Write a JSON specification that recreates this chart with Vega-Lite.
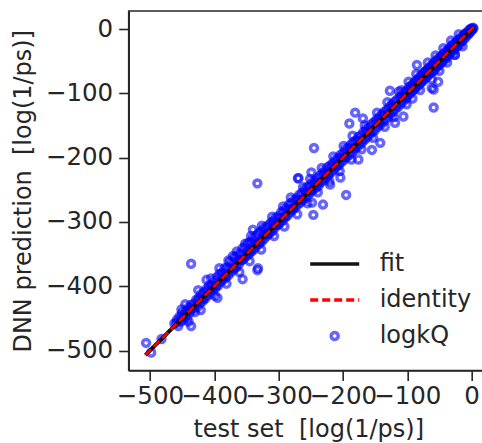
{
  "$schema": "https://vega.github.io/schema/vega-lite/v6.json",
  "autosize": {"type": "none"},
  "padding": {"left": 128.7, "top": 11, "right": 0, "bottom": 72.5},
  "width": 359,
  "height": 359.5,
  "config": {
    "view": {"stroke": "#262626", "strokeWidth": 1.6},
    "font": "DejaVu Sans",
    "axis": {
      "grid": false,
      "labelFont": "DejaVu Sans",
      "titleFont": "DejaVu Sans",
      "labelFontSize": 24.5,
      "titleFontSize": 24,
      "titleFontWeight": "normal",
      "labelColor": "#262626",
      "titleColor": "#262626",
      "tickColor": "#262626",
      "domainColor": "#262626",
      "tickSize": 10,
      "tickWidth": 1.6,
      "domainWidth": 1.6,
      "labelFlush": false,
      "labelOverlap": false
    }
  },
  "datasets": {
    "pts": [
      {"x":-462,"y":-458},{"x":-458,"y":-452},{"x":-456,"y":-462},{"x":-454,"y":-447},{"x":-452,"y":-455},{"x":-450,"y":-441},{"x":-448,"y":-452},{"x":-446,"y":-444},{"x":-444,"y":-438},{"x":-442,"y":-449},{"x":-440,"y":-433},{"x":-438,"y":-441},{"x":-436,"y":-429},{"x":-434,"y":-436},{"x":-432,"y":-427},{"x":-430,"y":-440},{"x":-428,"y":-421},{"x":-426,"y":-432},{"x":-424,"y":-418},{"x":-422,"y":-426},{"x":-420,"y":-412},{"x":-418,"y":-423},{"x":-416,"y":-409},{"x":-414,"y":-419},{"x":-412,"y":-404},{"x":-410,"y":-414},{"x":-408,"y":-399},{"x":-406,"y":-411},{"x":-404,"y":-398},{"x":-402,"y":-405},{"x":-400,"y":-392},
      {"x":-398,"y":-403},{"x":-396,"y":-386},{"x":-394,"y":-399},{"x":-392,"y":-381},{"x":-390,"y":-393},{"x":-388,"y":-379},{"x":-386,"y":-390},{"x":-384,"y":-372},{"x":-382,"y":-386},{"x":-380,"y":-371},{"x":-378,"y":-383},{"x":-376,"y":-362},{"x":-374,"y":-378},{"x":-372,"y":-364},{"x":-370,"y":-374},{"x":-368,"y":-355},{"x":-366,"y":-371},{"x":-364,"y":-352},{"x":-362,"y":-366},{"x":-360,"y":-349},{"x":-358,"y":-360},{"x":-356,"y":-341},{"x":-354,"y":-357},{"x":-352,"y":-339},{"x":-350,"y":-353},{"x":-348,"y":-333},{"x":-346,"y":-350},{"x":-344,"y":-331},{"x":-342,"y":-346},{"x":-340,"y":-326},{"x":-338,"y":-342},{"x":-336,"y":-322},{"x":-334,"y":-337},{"x":-332,"y":-318},{"x":-330,"y":-334},{"x":-328,"y":-315},{"x":-326,"y":-330},{"x":-324,"y":-311},{"x":-322,"y":-326},{"x":-320,"y":-308},{"x":-318,"y":-321},{"x":-316,"y":-305},{"x":-314,"y":-318},{"x":-312,"y":-301},{"x":-310,"y":-314},{"x":-308,"y":-298},{"x":-306,"y":-309},{"x":-304,"y":-293},{"x":-302,"y":-305},{"x":-300,"y":-291},
      {"x":-298,"y":-302},{"x":-296,"y":-285},{"x":-294,"y":-298},{"x":-292,"y":-282},{"x":-290,"y":-293},{"x":-288,"y":-279},{"x":-286,"y":-290},{"x":-284,"y":-273},{"x":-282,"y":-285},{"x":-280,"y":-270},{"x":-278,"y":-281},{"x":-276,"y":-266},{"x":-274,"y":-277},{"x":-272,"y":-263},{"x":-270,"y":-273},{"x":-268,"y":-258},{"x":-266,"y":-270},{"x":-264,"y":-255},{"x":-262,"y":-266},{"x":-260,"y":-251},{"x":-258,"y":-262},{"x":-256,"y":-246},{"x":-254,"y":-258},{"x":-252,"y":-244},{"x":-250,"y":-254},{"x":-248,"y":-239},{"x":-246,"y":-250},{"x":-244,"y":-236},{"x":-242,"y":-247},{"x":-240,"y":-232},{"x":-238,"y":-244},{"x":-236,"y":-228},{"x":-234,"y":-238},{"x":-232,"y":-224},{"x":-230,"y":-235},{"x":-228,"y":-220},{"x":-226,"y":-231},{"x":-224,"y":-215},{"x":-222,"y":-227},{"x":-220,"y":-212},{"x":-218,"y":-223},{"x":-216,"y":-209},{"x":-214,"y":-219},{"x":-212,"y":-204},{"x":-210,"y":-215},{"x":-208,"y":-201},{"x":-206,"y":-211},{"x":-204,"y":-196},{"x":-202,"y":-207},{"x":-200,"y":-193},
      {"x":-198,"y":-203},{"x":-196,"y":-187},{"x":-194,"y":-199},{"x":-192,"y":-184},{"x":-190,"y":-196},{"x":-188,"y":-180},{"x":-186,"y":-192},{"x":-184,"y":-176},{"x":-182,"y":-188},{"x":-180,"y":-173},{"x":-178,"y":-184},{"x":-176,"y":-168},{"x":-174,"y":-180},{"x":-172,"y":-165},{"x":-170,"y":-176},{"x":-168,"y":-160},{"x":-166,"y":-172},{"x":-164,"y":-156},{"x":-162,"y":-168},{"x":-160,"y":-153},{"x":-158,"y":-164},{"x":-156,"y":-148},{"x":-154,"y":-160},{"x":-152,"y":-145},{"x":-150,"y":-157},{"x":-148,"y":-141},{"x":-146,"y":-152},{"x":-144,"y":-137},{"x":-142,"y":-149},{"x":-140,"y":-133},{"x":-138,"y":-145},{"x":-136,"y":-129},{"x":-134,"y":-141},{"x":-132,"y":-126},{"x":-130,"y":-137},{"x":-128,"y":-121},{"x":-126,"y":-132},{"x":-124,"y":-117},{"x":-122,"y":-129},{"x":-120,"y":-113},{"x":-118,"y":-124},{"x":-116,"y":-110},{"x":-114,"y":-121},{"x":-112,"y":-106},{"x":-110,"y":-116},{"x":-108,"y":-102},{"x":-106,"y":-112},{"x":-104,"y":-98},{"x":-102,"y":-108},{"x":-100,"y":-95},
      {"x":-99,"y":-104},{"x":-97,"y":-90},{"x":-96,"y":-101},{"x":-94,"y":-88},{"x":-93,"y":-97},{"x":-91,"y":-85},{"x":-90,"y":-95},{"x":-88,"y":-82},{"x":-87,"y":-92},{"x":-85,"y":-79},{"x":-84,"y":-89},{"x":-82,"y":-76},{"x":-81,"y":-86},{"x":-79,"y":-72},{"x":-78,"y":-83},{"x":-76,"y":-70},{"x":-75,"y":-80},{"x":-73,"y":-67},{"x":-72,"y":-77},{"x":-70,"y":-64},{"x":-69,"y":-74},{"x":-67,"y":-61},{"x":-66,"y":-71},{"x":-64,"y":-58},{"x":-63,"y":-68},{"x":-61,"y":-55},{"x":-60,"y":-66},{"x":-58,"y":-52},{"x":-57,"y":-63},{"x":-55,"y":-49},{"x":-54,"y":-59},{"x":-52,"y":-46},{"x":-51,"y":-57},{"x":-49,"y":-44},{"x":-48,"y":-53},{"x":-46,"y":-41},{"x":-45,"y":-51},{"x":-43,"y":-38},{"x":-42,"y":-47},{"x":-40,"y":-35},{"x":-39,"y":-45},{"x":-37,"y":-32},{"x":-36,"y":-41},{"x":-34,"y":-29},{"x":-33,"y":-38},{"x":-31,"y":-26},{"x":-30,"y":-35},{"x":-28,"y":-23},{"x":-27,"y":-32},{"x":-25,"y":-21},{"x":-24,"y":-29},{"x":-22,"y":-18},{"x":-21,"y":-26},{"x":-19,"y":-15},{"x":-18,"y":-23},{"x":-16,"y":-13},{"x":-15,"y":-19},{"x":-13,"y":-10},{"x":-12,"y":-16},{"x":-10,"y":-7},{"x":-9,"y":-13},{"x":-7,"y":-5},{"x":-6,"y":-9},{"x":-4,"y":-2},{"x":-3,"y":-6},{"x":-2,"y":0},{"x":-1,"y":-3},{"x":0,"y":1},{"x":1,"y":-1},{"x":2,"y":2},{"x":3,"y":1},
      {"x":-459,"y":-457},{"x":-451,"y":-449},{"x":-445,"y":-447},{"x":-437,"y":-435},{"x":-431,"y":-433},{"x":-425,"y":-422},{"x":-417,"y":-419},{"x":-411,"y":-408},{"x":-403,"y":-401},{"x":-397,"y":-399},{"x":-389,"y":-386},{"x":-383,"y":-385},{"x":-377,"y":-374},{"x":-369,"y":-371},{"x":-363,"y":-360},{"x":-357,"y":-359},{"x":-349,"y":-346},{"x":-343,"y":-345},{"x":-337,"y":-334},{"x":-329,"y":-331},{"x":-323,"y":-320},{"x":-317,"y":-319},{"x":-309,"y":-306},{"x":-303,"y":-305},{"x":-297,"y":-294},{"x":-289,"y":-291},{"x":-283,"y":-280},{"x":-277,"y":-279},{"x":-269,"y":-266},{"x":-263,"y":-265},{"x":-257,"y":-254},{"x":-249,"y":-251},{"x":-243,"y":-240},{"x":-237,"y":-239},{"x":-229,"y":-226},{"x":-223,"y":-225},{"x":-217,"y":-214},{"x":-209,"y":-211},{"x":-203,"y":-200},{"x":-197,"y":-199},{"x":-189,"y":-186},{"x":-183,"y":-185},{"x":-177,"y":-174},{"x":-169,"y":-171},{"x":-163,"y":-160},{"x":-157,"y":-159},{"x":-149,"y":-146},{"x":-143,"y":-145},{"x":-137,"y":-134},{"x":-129,"y":-131},{"x":-123,"y":-120},{"x":-117,"y":-119},{"x":-109,"y":-106},{"x":-103,"y":-105},{"x":-95,"y":-93},{"x":-89,"y":-91},{"x":-83,"y":-80},{"x":-77,"y":-79},{"x":-71,"y":-68},{"x":-65,"y":-67},{"x":-59,"y":-57},{"x":-53,"y":-55},{"x":-47,"y":-44},{"x":-41,"y":-43},{"x":-35,"y":-33},{"x":-29,"y":-31},{"x":-23,"y":-21},{"x":-17,"y":-19},{"x":-11,"y":-9},{"x":-5,"y":-7},
      {"x":-445,"y":-428},{"x":-425,"y":-406},{"x":-405,"y":-388},{"x":-392,"y":-372},{"x":-378,"y":-360},{"x":-365,"y":-346},{"x":-352,"y":-334},{"x":-343,"y":-322},{"x":-326,"y":-306},{"x":-310,"y":-292},{"x":-293,"y":-276},{"x":-281,"y":-262},{"x":-262,"y":-246},{"x":-251,"y":-233},{"x":-233,"y":-216},{"x":-215,"y":-198},{"x":-199,"y":-182},{"x":-185,"y":-166},{"x":-166,"y":-150},{"x":-147,"y":-130},{"x":-131,"y":-114},{"x":-113,"y":-97},{"x":-98,"y":-82},{"x":-86,"y":-70},{"x":-68,"y":-52},{"x":-56,"y":-41},{"x":-44,"y":-30},{"x":-32,"y":-18},{"x":-20,"y":-8},
      {"x":-440,"y":-455},{"x":-421,"y":-437},{"x":-399,"y":-415},{"x":-381,"y":-396},{"x":-361,"y":-378},{"x":-345,"y":-361},{"x":-327,"y":-343},{"x":-307,"y":-322},{"x":-291,"y":-307},{"x":-271,"y":-288},{"x":-255,"y":-271},{"x":-239,"y":-254},{"x":-221,"y":-237},{"x":-205,"y":-221},{"x":-187,"y":-203},{"x":-171,"y":-187},{"x":-153,"y":-169},{"x":-135,"y":-152},{"x":-121,"y":-137},{"x":-101,"y":-117},{"x":-92,"y":-108},{"x":-80,"y":-95},{"x":-62,"y":-78},{"x":-50,"y":-65},{"x":-38,"y":-52},{"x":-26,"y":-40},{"x":-14,"y":-27},
      {"x":-506,"y":-488},{"x":-498,"y":-503},{"x":-482,"y":-482},{"x":-436,"y":-365},{"x":-436,"y":-462},{"x":-451,"y":-436},{"x":-395,"y":-418},{"x":-412,"y":-390},{"x":-356,"y":-389},{"x":-333,"y":-375},{"x":-371,"y":-353},{"x":-333,"y":-240},{"x":-340,"y":-312},{"x":-269,"y":-232},{"x":-246,"y":-289},{"x":-231,"y":-273},{"x":-245,"y":-185},{"x":-249,"y":-223},{"x":-248,"y":-270},{"x":-195,"y":-258},{"x":-204,"y":-231},{"x":-220,"y":-242},{"x":-176,"y":-203},{"x":-155,"y":-188},{"x":-142,"y":-177},{"x":-181,"y":-130},{"x":-190,"y":-147},{"x":-169,"y":-139},{"x":-127,"y":-96},{"x":-109,"y":-95},{"x":-106,"y":-136},{"x":-119,"y":-146},{"x":-85,"y":-56},{"x":-59,"y":-122},{"x":-59,"y":-94},{"x":-52,"y":-82},{"x":-62,"y":-92},{"x":-72,"y":-66},{"x":-26,"y":-40},{"x":-270,"y":-232},{"x":-332,"y":-372}
    ],
    "line": [{"x": -507, "y": -507}, {"x": 3, "y": 3}]
  },
  "layer": [
    {
      "data": {"name": "pts"},
      "mark": {"type": "point", "filled": false, "strokeWidth": 3.5, "size": 48, "opacity": 1},
      "encoding": {
        "x": {"field": "x", "type": "quantitative", "scale": {"domain": [-533, 25], "nice": false, "zero": false},
              "axis": {"values": [-500, -400, -300, -200, -100, 0], "title": "test set\u00a0 [log(1/ps)]", "labelPadding": 4, "titlePadding": 10}},
        "y": {"field": "y", "type": "quantitative", "scale": {"domain": [-531, 28], "nice": false, "zero": false},
              "axis": {"values": [-500, -400, -300, -200, -100, 0], "title": "DNN prediction\u00a0 [log(1/ps)]", "labelPadding": 6, "titlePadding": 10}},
        "color": {"datum": "logkQ", "type": "nominal",
          "scale": {"domain": ["fit", "identity", "logkQ"], "range": ["#111111", "#ff0000", "rgba(0,0,255,0.6)"]},
          "legend": {
            "orient": "none", "legendX": 194, "legendY": 241, "title": null,
            "labelFont": "DejaVu Sans", "labelFontSize": 24, "labelColor": "#262626", "labelOffset": 33, "labelLimit": 0,
            "symbolSize": 49, "symbolStrokeWidth": 3.5, "symbolOpacity": 1, "rowPadding": 12
          }},
        "shape": {"datum": "logkQ", "type": "nominal",
          "scale": {"domain": ["fit", "identity", "logkQ"], "range": ["M-7,0H7", "M-7,0H7", "circle"]}}
      }
    },
    {
      "data": {"name": "line"},
      "mark": {"type": "line", "strokeWidth": 4},
      "encoding": {
        "x": {"field": "x", "type": "quantitative"},
        "y": {"field": "y", "type": "quantitative"},
        "color": {"datum": "fit", "type": "nominal"},
        "strokeDash": {"datum": "fit", "type": "nominal",
          "scale": {"domain": ["fit", "identity", "logkQ"], "range": [[1, 0], [8, 4], [1, 0]]}}
      }
    },
    {
      "data": {"name": "line"},
      "mark": {"type": "line", "strokeWidth": 2.5},
      "encoding": {
        "x": {"field": "x", "type": "quantitative"},
        "y": {"field": "y", "type": "quantitative"},
        "color": {"datum": "identity", "type": "nominal"},
        "strokeDash": {"datum": "identity", "type": "nominal"}
      }
    }
  ]
}
